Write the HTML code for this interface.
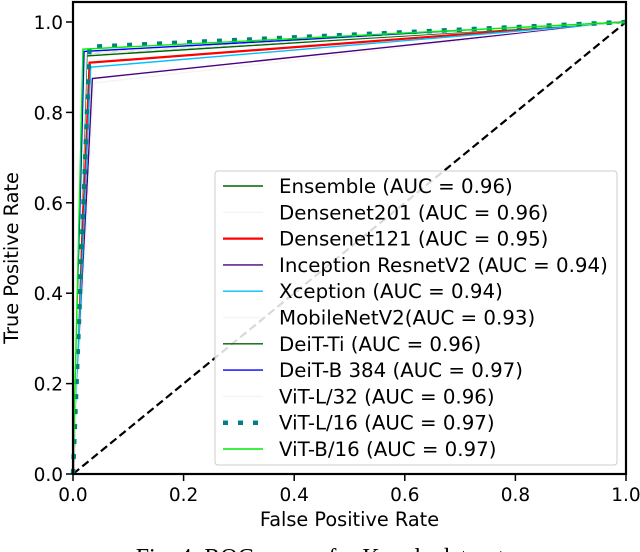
<!DOCTYPE html>
<html><head><meta charset="utf-8"><style>
body{margin:0;background:#fff;width:640px;height:552px;overflow:hidden}
svg{display:block;font-family:"DejaVu Sans","Liberation Sans",sans-serif}
</style></head><body>
<svg id="chart" width="640" height="552" viewBox="0 0 640 552">
<rect x="0" y="0" width="640" height="552" fill="#fff"/>
<g id="plot"></g>
</svg>
<script>
const names=["Ensemble","Densenet201","Densenet121","Inception ResnetV2","Xception","MobileNetV2","DeiT-Ti","DeiT-B 384","ViT-L/32","ViT-L/16","ViT-B/16"];
const aucs=["0.96","0.96","0.95","0.94","0.94","0.93","0.96","0.97","0.96","0.97","0.97"];
const kneeFpr=[0.025,0.022,0.03,0.035,0.032,0.038,0.025,0.02,0.024,0.03,0.018];
const kneeTpr=[0.93,0.925,0.91,0.875,0.9,0.865,0.925,0.935,0.93,0.945,0.94];
const colors=["#006400","#f4f4fa","#ff0000","#4b0082","#00bfff","#f4f4f4","#006400","#0000ff","#f4f4f4","#008080","#00ee00"];
const xTicks=[0,0.2,0.4,0.6,0.8,1.0];
const yTicks=[0,0.2,0.4,0.6,0.8,1.0];
const X0=73,X1=626,Y0=474,Y1=22;
const sx=v=>X0+v*(X1-X0), sy=v=>Y0-v*(Y0-Y1);
const NS="http://www.w3.org/2000/svg";
const g=document.getElementById('plot');
function mk(t,a,p){const e=document.createElementNS(NS,t);for(const k in a)e.setAttribute(k,a[k]);(p||g).appendChild(e);return e;}
let d=mk('line',{x1:sx(0),y1:sy(0),x2:sx(1),y2:sy(1),stroke:'#000','stroke-width':2.2,'stroke-dasharray':'8,4'});


names.forEach((n,i)=>{
 const pts=[[0,0],[kneeFpr[i],kneeTpr[i]],[1,1]].map(p=>sx(p[0])+','+sy(p[1])).join(' ');
 const dotted=n==="ViT-L/16";
 const c=mk('polyline',{points:pts,fill:'none',stroke:colors[i],'stroke-width':dotted?4.5:(n==="Densenet121"?2.2:1.4),'stroke-dasharray':dotted?'5,10':'none'});
 
 
});
let f=mk('rect',{x:X0,y:2,width:X1-X0,height:Y0-2,fill:'none',stroke:'#000','stroke-width':2.2});


xTicks.forEach(v=>{
 mk('line',{x1:sx(v),y1:Y0,x2:sx(v),y2:Y0+7,stroke:'#000','stroke-width':1.5});
 const t=mk('text',{x:sx(v),y:Y0+27,'text-anchor':'middle','font-size':18.5});t.textContent=v.toFixed(1);
 
 
});
yTicks.forEach(v=>{
 mk('line',{x1:X0-7,y1:sy(v),x2:X0,y2:sy(v),stroke:'#000','stroke-width':1.5});
 const t=mk('text',{x:X0-10,y:sy(v)+7,'text-anchor':'end','font-size':18.5});t.textContent=v.toFixed(1);
 
 
});
let xl=mk('text',{x:(X0+X1)/2,y:526,'text-anchor':'middle','font-size':19.3});xl.textContent='False Positive Rate';


let yl=mk('text',{x:0,y:0,'text-anchor':'middle','font-size':19.3,transform:'translate(18,'+((Y0+Y1)/2+10)+') rotate(-90)'});yl.textContent='True Positive Rate';


const lg=mk('g',{});


mk('rect',{x:215,y:171,width:402,height:294,rx:3,fill:'#fff','fill-opacity':0.85,stroke:'#ccc','stroke-width':1},lg);
names.forEach((n,i)=>{
 const y=186+i*26.3;
 const dotted=n==="ViT-L/16";
 mk('line',{x1:223,y1:y,x2:263,y2:y,stroke:colors[i],'stroke-width':dotted?4.5:(n==="Densenet121"?2.2:1.4),'stroke-dasharray':dotted?'5,10':'none'},lg);
 const t=mk('text',{x:279,y:y+7,'font-size':19.8},lg);
 t.textContent=n+(n==="MobileNetV2"?'':' ')+'(AUC = '+aucs[i]+')';
 
 
});
let cap=mk('text',{x:320,y:565,'text-anchor':'middle','font-size':24,'font-family':'"Liberation Serif",serif'});
cap.textContent='Fig. 4: ROC curves for Kaggle dataset';


</script>
</body></html>
